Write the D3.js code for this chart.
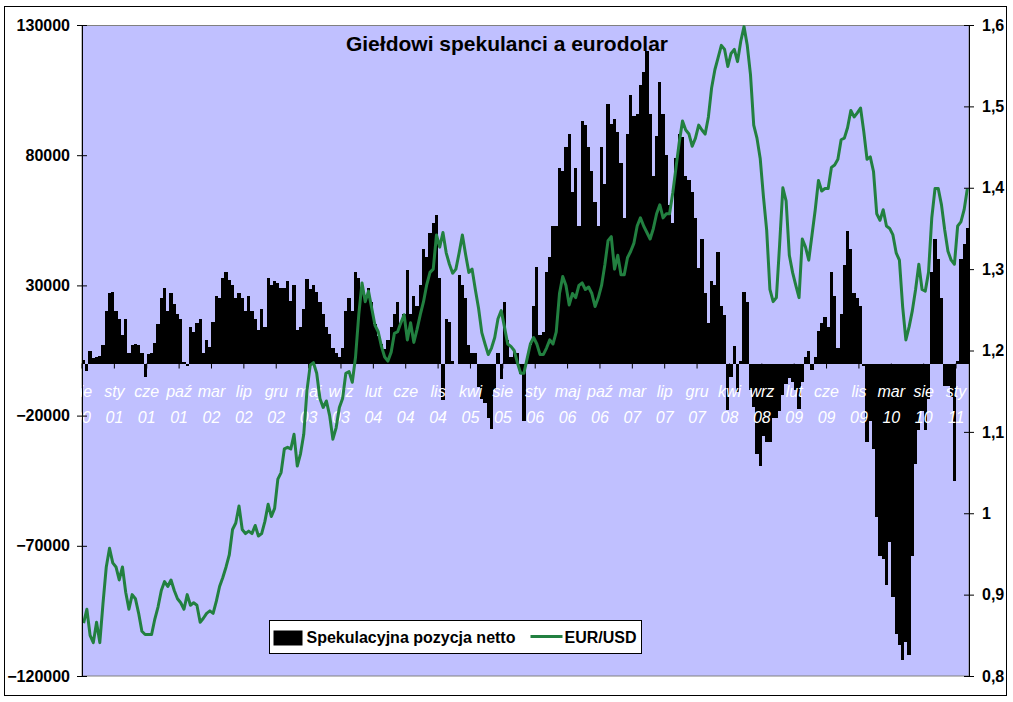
<!DOCTYPE html>
<html>
<head>
<meta charset="utf-8">
<script src="https://cdn.jsdelivr.net/npm/d3@7"></script>
<style>
	body { margin: 0; background: #fff; }
	svg { display: block; font-family: Arial, "Liberation Sans", sans-serif; }
</style>
</head>
<body>
<svg id="chart" width="1013" height="702"></svg>
<script>
// first COT report in the series, then one value every two weeks
const startDate = "2000-08-29";
const stepDays = 14;

// net speculative position on EUR futures (contracts)
const pozycjaNetto = [
	1500, -3000, 5000, 2000, 2500, 3000, 7000, 20000, 27000, 27500,
	20000, 17000, 11000, 17000, 4000, 7000, 7500, 7000, 4000, -5000,
	3500, 4000, 8000, 15000, 25000, 29000, 20000, 27000, 23000, 19000,
	17000, 500, -1000, 14000, 12000, 15500, 17000, 4000, 9000, 6500,
	16000, 26000, 25000, 33000, 35000, 32000, 30000, 25000, 27000, 25000,
	20000, 26000, 20000, 17000, 13000, 21000, 14000, 33000, 30000, 31500,
	31000, 29000, 29000, 31500, 24000, 30000, 13000, 14000, 21000, 32500,
	28500, 30000, 27500, 23500, 19000, 14000, 11500, 6000, 4000, 2500,
	6000, 20000, 25000, 20000, 35000, 33000, 28500, 24000, 29000, 23500,
	15000, 10500, 7500, 5500, 9000, 14000, 19000, 23500, 15500, 19000,
	36000, 19000, 26000, 22000, 30000, 44000, 41000, 50000, 54000, 57000,
	33000, -14000, 17000, 16000, 1000, 0, 34000, 30000, 25000, 7000,
	4000, 4000, -9000, -13500, -15000, -21000, -25000, -10000, 4000, -6000,
	23500, 9000, 2500, 5000, 4000, -4000, -22000, 2500, 7000, 22000,
	37000, 11000, 12000, 35000, 41000, 53000, 53000, 75000, 74000, 83000,
	88000, 66000, 75000, 53000, 93000, 91500, 83000, 74000, 62000, 53000,
	83000, 69000, 99600, 92000, 94000, 89000, 77000, 56000, 88000, 103000,
	95000, 96000, 107000, 112000, 120000, 96000, 72000, 87500, 108000, 96000,
	80000, 61000, 54000, 79000, 88000, 87000, 72000, 70500, 66000, 56000,
	36500, 48000, 27000, 15500, 31700, 30000, 43000, 22000, 18800, -18000,
	-5000, 6600, -11000, 1000, 27600, 23600, -10300, -16800, -34600, -39500,
	-28000, -30000, -30000, -21000, -21000, -18400, -12000, -8000, -5500, -7000,
	-10000, -17600, -7000, 2600, 5000, -2300, 2600, 12300, 15500, 18000,
	14000, 35000, 26000, 6000, 19000, 38000, 51000, 44000, 27000, 25000,
	22000, -1000, -30000, -22000, -33000, -59000, -74000, -75000, -85000, -68600,
	-89600, -104000, -108000, -114000, -107000, -112000, -74000, -38700, -25700, -18400,
	-25700, -13600, 35000, 48000, 40000, 25000, -8700, -8700, -12800, -45000,
	1000, 40000, 46000, 52000
];

// EUR/USD rate on the same dates
const eurUsd = [
	0.865, 0.882, 0.850, 0.841, 0.866, 0.841, 0.890, 0.934, 0.957, 0.939,
	0.934, 0.918, 0.934, 0.903, 0.882, 0.900, 0.895, 0.877, 0.855, 0.851,
	0.851, 0.851, 0.870, 0.885, 0.905, 0.916, 0.910, 0.918, 0.905, 0.895,
	0.890, 0.882, 0.900, 0.887, 0.890, 0.887, 0.866, 0.871, 0.877, 0.880,
	0.877, 0.892, 0.910, 0.921, 0.934, 0.949, 0.980, 0.988, 1.009, 0.980,
	0.975, 0.978, 0.975, 0.985, 0.972, 0.975, 0.990, 1.011, 0.996, 1.006,
	1.042, 1.050, 1.079, 1.081, 1.079, 1.097, 1.058, 1.073, 1.097, 1.151,
	1.182, 1.185, 1.172, 1.141, 1.130, 1.138, 1.120, 1.091, 1.105, 1.130,
	1.141, 1.172, 1.174, 1.161, 1.192, 1.244, 1.283, 1.260, 1.273, 1.252,
	1.231, 1.223, 1.205, 1.192, 1.187, 1.198, 1.221, 1.223, 1.234, 1.244,
	1.213, 1.234, 1.210, 1.226, 1.244, 1.260, 1.281, 1.296, 1.300, 1.342,
	1.327, 1.345, 1.320, 1.306, 1.295, 1.300, 1.320, 1.342, 1.318, 1.296,
	1.300, 1.275, 1.252, 1.222, 1.208, 1.195, 1.203, 1.216, 1.239, 1.249,
	1.229, 1.208, 1.205, 1.200, 1.185, 1.172, 1.172, 1.190, 1.208, 1.216,
	1.208, 1.195, 1.195, 1.203, 1.213, 1.208, 1.223, 1.270, 1.291, 1.280,
	1.256, 1.270, 1.265, 1.280, 1.283, 1.275, 1.278, 1.270, 1.254, 1.265,
	1.280, 1.305, 1.335, 1.340, 1.300, 1.317, 1.293, 1.293, 1.314, 1.322,
	1.332, 1.353, 1.363, 1.353, 1.345, 1.337, 1.350, 1.368, 1.379, 1.363,
	1.368, 1.368, 1.394, 1.425, 1.456, 1.482, 1.471, 1.466, 1.451, 1.461,
	1.477, 1.471, 1.466, 1.487, 1.523, 1.545, 1.560, 1.575, 1.570, 1.549,
	1.565, 1.570, 1.555, 1.580, 1.598, 1.575, 1.539, 1.477, 1.461, 1.436,
	1.389, 1.348, 1.275, 1.260, 1.265, 1.330, 1.400, 1.384, 1.317, 1.296,
	1.280, 1.265, 1.337, 1.327, 1.311, 1.342, 1.373, 1.409, 1.396, 1.399,
	1.399, 1.425, 1.428, 1.435, 1.459, 1.461, 1.474, 1.495, 1.487, 1.492,
	1.498, 1.469, 1.435, 1.438, 1.420, 1.368, 1.360, 1.373, 1.353, 1.350,
	1.342, 1.320, 1.311, 1.254, 1.213, 1.229, 1.249, 1.275, 1.306, 1.275,
	1.273, 1.296, 1.363, 1.399, 1.399, 1.379, 1.348, 1.322, 1.311, 1.306,
	1.353, 1.358, 1.373, 1.399
];

// category labels, one every 10 points (20 weeks)
const etykiety = [
	"sie 00", "sty 01", "cze 01", "paź 01", "mar 02", "lip 02", "gru 02",
	"maj 03", "wrz 03", "lut 04", "cze 04", "lis 04", "kwi 05", "sie 05",
	"sty 06", "maj 06", "paź 06", "mar 07", "lip 07", "gru 07", "kwi 08",
	"wrz 08", "lut 09", "cze 09", "lis 09", "mar 10", "sie 10", "sty 11"
];
const labelStep = 10;

const lewaOsTicks = [130000, 80000, 30000, -20000, -70000, -120000];
const prawaOsTicks = [1.6, 1.5, 1.4, 1.3, 1.2, 1.1, 1.0, 0.9, 0.8];

const tytul = "Giełdowi spekulanci a eurodolar";
const serieNazwy = ["Spekulacyjna pozycja netto", "EUR/USD"];

// plot area (pixels)
const plot = { left: 82, right: 969, top: 25, bottom: 676 };
const GREEN = "#228040";

drawChart();

function drawChart() {
	const svg = d3.select("#chart");
	const t0 = d3.timeParse("%Y-%m-%d")(startDate);
	const daty = pozycjaNetto.map((d, i) => d3.timeDay.offset(t0, i * stepDays));
	const rows = daty.map((d, i) => ({ date: d, pos: pozycjaNetto[i], fx: eurUsd[i] }));

	const x = d3.scaleBand().domain(daty).range([plot.left, plot.right]).padding(0);
	const yL = d3.scaleLinear().domain([-120000, 130000]).range([plot.bottom, plot.top]);
	const yR = d3.scaleLinear().domain([0.8, 1.6]).range([plot.bottom, plot.top]);
	const plFormat = d3.formatLocale({ decimal: ",", thousands: " ", grouping: [3], currency: ["", " zł"] });

	// outer frame
	svg.append("rect")
		.attr("x", 4.5).attr("y", 6.5).attr("width", 1002).attr("height", 689)
		.attr("fill", "#fff").attr("stroke", "#000").attr("stroke-width", 1);

	// plot background
	svg.append("rect")
		.attr("x", plot.left).attr("y", plot.top + 0.5)
		.attr("width", plot.right - plot.left).attr("height", plot.bottom - plot.top - 0.5)
		.attr("fill", "#c0c0ff").attr("stroke", "#808080").attr("stroke-width", 1);

	// bars
	const y0 = yL(0);
	svg.append("g").attr("shape-rendering", "crispEdges")
		.selectAll("rect").data(rows).join("rect")
		.attr("x", d => x(d.date))
		.attr("width", x.bandwidth())
		.attr("y", d => Math.min(yL(d.pos), y0))
		.attr("height", d => Math.abs(yL(d.pos) - y0))
		.attr("fill", "#000");

	// category axis, ticks sit on the band edges
	const labelDates = etykiety.map((e, k) => daty[k * labelStep]);
	const xAxis = d3.axisBottom(x).tickValues(labelDates).tickSizeInner(5).tickSizeOuter(0).tickFormat("");
	const gx = svg.append("g")
		.attr("transform", `translate(${-x.bandwidth() / 2},${y0})`)
		.call(xAxis);
	gx.select(".domain").remove();
	gx.selectAll(".tick line").attr("stroke", "#000");
	gx.selectAll(".tick text").each(function(d, i) {
		const parts = etykiety[i].split(" ");
		const t = d3.select(this).attr("y", null).attr("dy", null)
			.attr("fill", "#fff").attr("font-style", "italic").attr("font-size", 16);
		t.append("tspan").attr("x", 0).attr("y", 33.5).text(parts[0]);
		t.append("tspan").attr("x", 0).attr("y", 59.5).text(parts[1]);
	});

	// EUR/USD line
	const line = d3.line()
		.x(d => x(d.date) + x.bandwidth() / 2)
		.y(d => yR(d.fx));
	svg.append("path").datum(rows)
		.attr("d", line)
		.attr("fill", "none").attr("stroke", GREEN).attr("stroke-width", 3)
		.attr("stroke-linejoin", "round");

	// value axes
	const gl = svg.append("g").attr("transform", `translate(${plot.left},0)`)
		.call(d3.axisLeft(yL).tickValues(lewaOsTicks).tickFormat(d3.format("d"))
			.tickSizeInner(5).tickSizeOuter(0).tickPadding(7));
	const gr = svg.append("g").attr("transform", `translate(${plot.right},0)`)
		.call(d3.axisRight(yR).tickValues(prawaOsTicks).tickFormat(plFormat.format(".1~f"))
			.tickSizeInner(5).tickSizeOuter(0).tickPadding(8));
	[gl, gr].forEach(g => {
		g.select(".domain").attr("stroke", "#000");
		g.selectAll(".tick line").attr("stroke", "#000");
		g.selectAll(".tick text").attr("fill", "#000").attr("font-size", 16).attr("font-weight", "bold");
	});
	gl.selectAll(".tick line").attr("x1", 5);
	gr.selectAll(".tick line").attr("x1", -5);

	// title
	svg.append("text")
		.attr("x", 507).attr("y", 51)
		.attr("text-anchor", "middle")
		.attr("font-size", 21).attr("font-weight", "bold")
		.text(tytul);

	// legend
	const lg = svg.append("g").attr("transform", "translate(269.5,620.5)");
	lg.append("rect").attr("width", 372).attr("height", 33)
		.attr("fill", "#fff").attr("stroke", "#000");
	lg.append("rect").attr("x", 4).attr("y", 10).attr("width", 29).attr("height", 15).attr("fill", "#000");
	lg.append("text").attr("x", 37).attr("y", 22)
		.attr("font-size", 16).attr("font-weight", "bold").text(serieNazwy[0]);
	lg.append("line").attr("x1", 261).attr("x2", 293).attr("y1", 16).attr("y2", 16)
		.attr("stroke", GREEN).attr("stroke-width", 3);
	lg.append("text").attr("x", 295).attr("y", 22)
		.attr("font-size", 16).attr("font-weight", "bold").text(serieNazwy[1]);
}
</script>
</body>
</html>
